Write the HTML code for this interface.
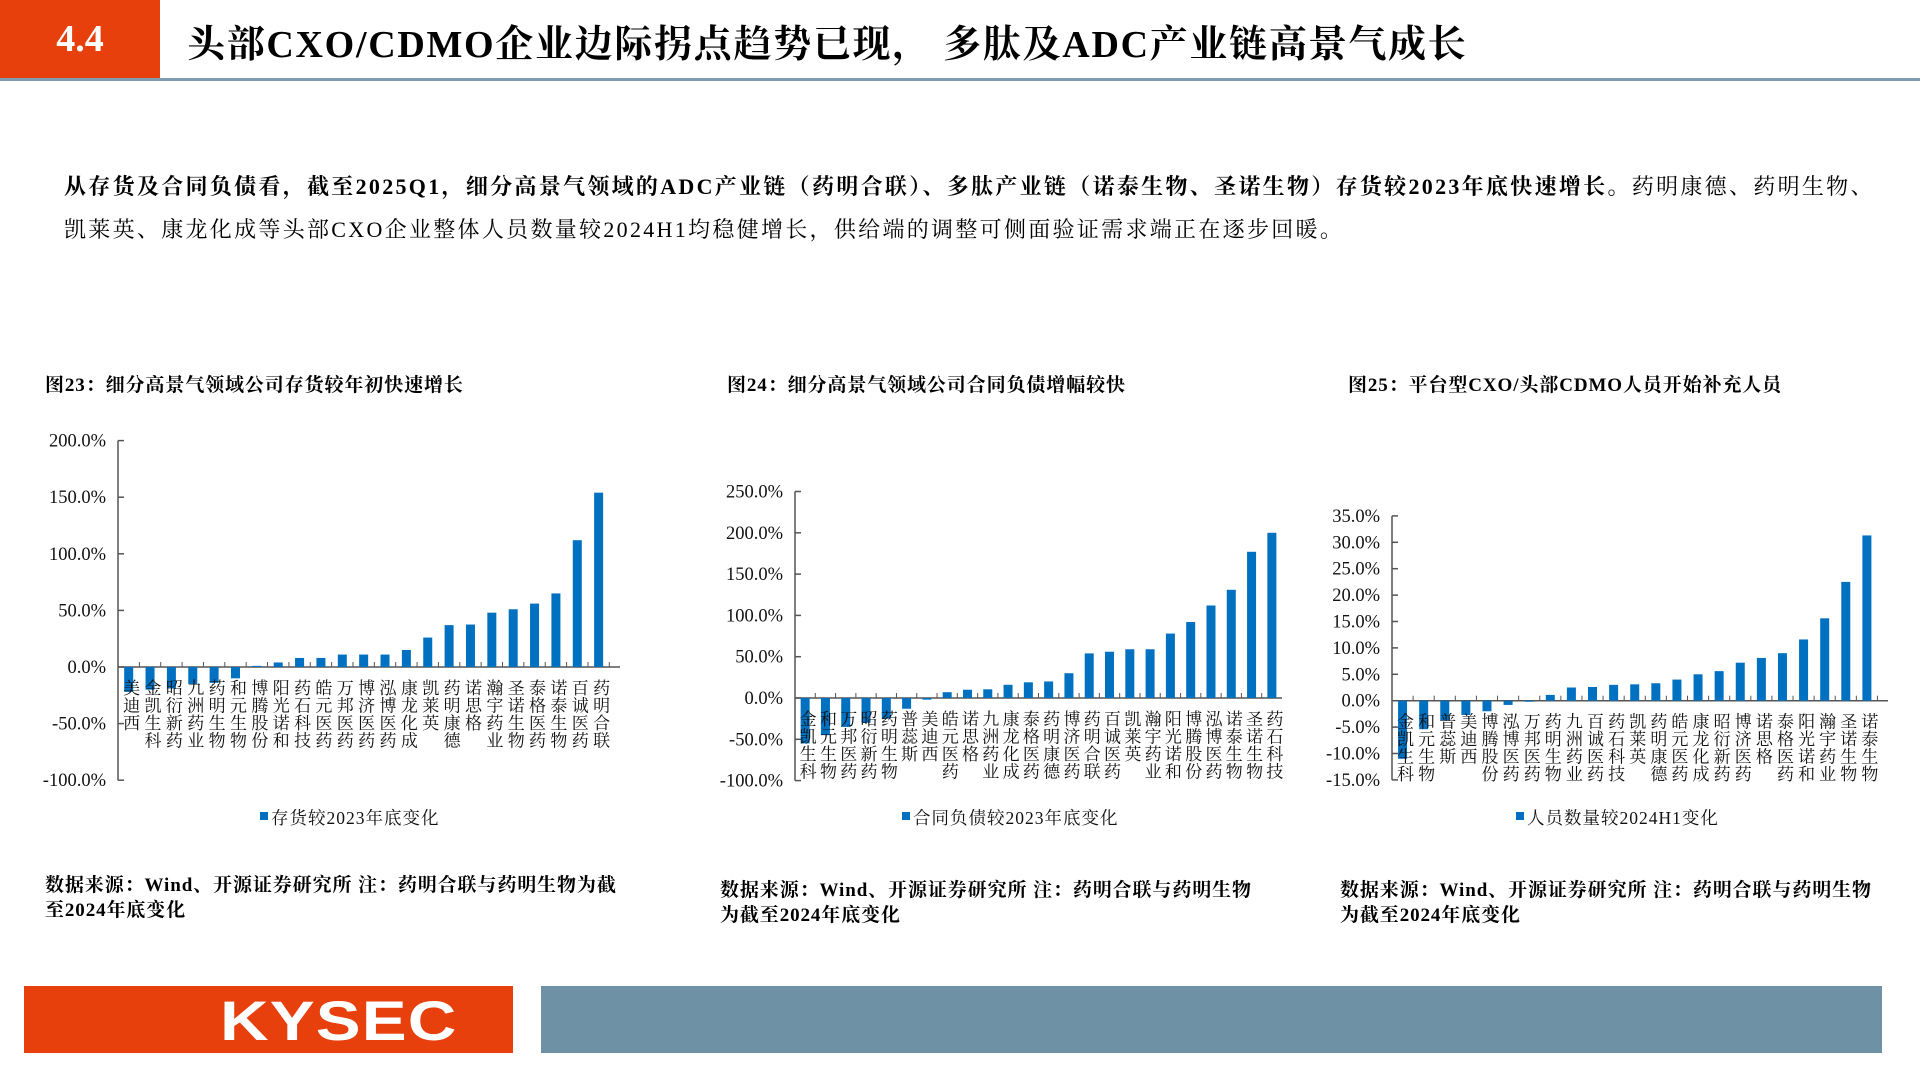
<!DOCTYPE html>
<html><head><meta charset="utf-8">
<style>
body{margin:0;width:1920px;height:1080px;background:#fff;position:relative;overflow:hidden;font-family:"Liberation Serif","Noto Serif CJK SC",serif;color:#000}
.abs{position:absolute}
#hdr-box{left:0;top:0;width:160px;height:78px;background:#e8400c;color:#fff;font-weight:bold;font-size:38px;line-height:78px;text-align:center}
#hdr-line{left:0;top:78px;width:1920px;height:3px;background:#7f9db2}
#title{left:187px;top:13px;font-size:38px;font-weight:bold;white-space:nowrap;letter-spacing:1.7px}
.para{left:64px;font-size:22px;white-space:nowrap;letter-spacing:2.3px}
.ct{font-size:19px;font-weight:bold;white-space:nowrap;top:370px;letter-spacing:0.9px}
.note{font-size:19px;font-weight:bold;line-height:25px;letter-spacing:0.9px;white-space:nowrap}
svg text{font-family:"Liberation Serif","Noto Serif CJK SC",serif}
</style></head><body>
<div class="abs" id="hdr-box">4.4</div>
<div class="abs" id="hdr-line"></div>
<div class="abs" id="title">头部CXO/CDMO企业边际拐点趋势已现， 多肽及ADC产业链高景气成长</div>
<div class="abs para" style="top:170px"><b>从存货及合同负债看，截至2025Q1，细分高景气领域的ADC产业链（药明合联）、多肽产业链（诺泰生物、圣诺生物）存货较2023年底快速增长。</b>药明康德、药明生物、</div>
<div class="abs para" style="top:213px">凯莱英、康龙化成等头部CXO企业整体人员数量较2024H1均稳健增长，供给端的调整可侧面验证需求端正在逐步回暖。</div>

<div class="abs ct" style="left:45px">图23：细分高景气领域公司存货较年初快速增长</div>
<div class="abs ct" style="left:727px">图24：细分高景气领域公司合同负债增幅较快</div>
<div class="abs ct" style="left:1348px">图25：平台型CXO/头部CDMO人员开始补充人员</div>

<svg class="abs" id="charts" style="left:0;top:0" width="1920" height="1080"></svg>

<div class="abs note" style="left:45px;top:873px">数据来源：Wind、开源证券研究所 注：药明合联与药明生物为截<br>至2024年底变化</div>
<div class="abs note" style="left:720px;top:878px">数据来源：Wind、开源证券研究所 注：药明合联与药明生物<br>为截至2024年底变化</div>
<div class="abs note" style="left:1340px;top:878px">数据来源：Wind、开源证券研究所 注：药明合联与药明生物<br>为截至2024年底变化</div>

<div class="abs" style="left:24px;top:986px;width:489px;height:67px;background:#e8400c">
<div style="position:absolute;left:196px;top:2px;color:#fff;font-family:'Liberation Sans',sans-serif;font-weight:bold;font-size:56px;letter-spacing:1px;transform:scaleX(1.2);transform-origin:left">KYSEC</div></div>
<div class="abs" style="left:541px;top:986px;width:1341px;height:67px;background:#6e91a6"></div>

<script>
const cats1=["美迪西","金凯生科","昭衍新药","九洲药业","药明生物","和元生物","博腾股份","阳光诺和","药石科技","皓元医药","万邦医药","博济医药","泓博医药","康龙化成","凯莱英","药明康德","诺思格","瀚宇药业","圣诺生物","泰格医药","诺泰生物","百诚医药","药明合联"];
const vals1=[-22,-20,-19,-15,-14,-10,1,4,8,8,11,11,11,15,26,37,37.5,48,51,56,65,112,154];
const ticks1=[200,150,100,50,0,-50,-100];
const cats2=["金凯生科","和元生物","万邦医药","昭衍新药","药明生物","普蕊斯","美迪西","皓元医药","诺思格","九洲药业","康龙化成","泰格医药","药明康德","博济医药","药明合联","百诚医药","凯莱英","瀚宇药业","阳光诺和","博腾股份","泓博医药","诺泰生物","圣诺生物","药石科技"];
const vals2=[-55,-45,-35,-30,-25,-13,-2,7,10,10.5,16,19,20,30,54,56,59,59,78,92,112,131,177,200];
const ticks2=[250,200,150,100,50,0,-50,-100];
const cats3=["金凯生科","和元生物","普蕊斯","美迪西","博腾股份","泓博医药","万邦医药","药明生物","九洲药业","百诚医药","药石科技","凯莱英","药明康德","皓元医药","康龙化成","昭衍新药","博济医药","诺思格","泰格医药","阳光诺和","瀚宇药业","圣诺生物","诺泰生物"];
const vals3=[-11,-5.4,-3.7,-2.7,-2,-0.8,-0.2,1.1,2.5,2.6,3,3.1,3.3,4,5,5.6,7.2,8.1,9,11.6,15.6,22.5,31.3];
const ticks3=[35,30,25,20,15,10,5,0,-5,-10,-15];
const legends=["存货较2023年底变化","合同负债较2023年底变化","人员数量较2024H1变化"];

const NS="http://www.w3.org/2000/svg";
const svg=document.getElementById('charts');
function mk(tag,attrs){const e=document.createElementNS(NS,tag);for(const k in attrs)e.setAttribute(k,attrs[k]);return e;}

function draw(id,cats,vals,ticks,cfg,legend){
  const g=mk('g',{});
  
  
  svg.appendChild(g);
  const y=v=>cfg.y0-(v/cfg.step)*cfg.px;
  const n=cfg.n; const bw=(cfg.x1-cfg.x0)/n;
  const x=i=>cfg.x0+bw*(i+0.5);
  const yTop=y(Math.max(...ticks)), yBot=y(Math.min(...ticks));
  const ax=mk('line',{x1:cfg.x0,x2:cfg.x0,y1:yTop,y2:yBot,stroke:'#555','stroke-width':1.5});
  
  
  g.appendChild(ax);
  ticks.forEach(t=>{
    const tl=mk('line',{x1:cfg.x0,x2:cfg.x0+6,y1:y(t),y2:y(t),stroke:'#555','stroke-width':1.5});
    
    
    g.appendChild(tl);
    const tx=mk('text',{x:cfg.x0-12,y:y(t)+6,'text-anchor':'end','font-size':18.5,fill:'#111'});
    tx.textContent=t.toFixed(1)+'%';
    
    
    g.appendChild(tx);
  });
  const xa=mk('line',{x1:cfg.x0,x2:cfg.x1,y1:cfg.y0,y2:cfg.y0,stroke:'#555','stroke-width':1.5});
  
  
  g.appendChild(xa);
  for(let i=1;i<n;i++){
    const t=mk('line',{x1:cfg.x0+bw*i,x2:cfg.x0+bw*i,y1:cfg.y0,y2:cfg.y0-5,stroke:'#555','stroke-width':1});
    
    
    g.appendChild(t);
  }
  vals.forEach((v,i)=>{
    const r=mk('rect',{x:x(i)-4.5,width:9,y:Math.min(y(v),cfg.y0),height:Math.abs(y(v)-cfg.y0),fill:'#0070c0'});
    
    
    g.appendChild(r);
  });
  cats.forEach((c,i)=>{
    const t=mk('text',{'font-size':17,fill:'#111','text-anchor':'middle'});
    
    
    [...c].forEach((ch,k)=>{
      const s=mk('tspan',{x:x(i)+3,y:cfg.y0+27+k*17.5});
      s.textContent=ch;
      t.appendChild(s);
    });
    g.appendChild(t);
  });
  const lr=mk('rect',{x:cfg.lx,y:812,width:8,height:8,fill:'#0070c0'});
  
  
  g.appendChild(lr);
  const lt=mk('text',{x:cfg.lx+11,y:824,'font-size':17.5,fill:'#111','letter-spacing':1});
  lt.textContent=legend;
  
  
  g.appendChild(lt);
}
draw('chart23',cats1,vals1,ticks1,{x0:118,x1:620,y0:667,step:50,px:56.6,n:23.5,lx:260},legends[0]);
draw('chart24',cats2,vals2,ticks2,{x0:795,x1:1282,y0:698,step:50,px:41.3,n:24,lx:902},legends[1]);
draw('chart25',cats3,vals3,ticks3,{x0:1392,x1:1888,y0:700.7,step:5,px:26.4,n:23.5,lx:1516},legends[2]);
</script>
</body></html>
